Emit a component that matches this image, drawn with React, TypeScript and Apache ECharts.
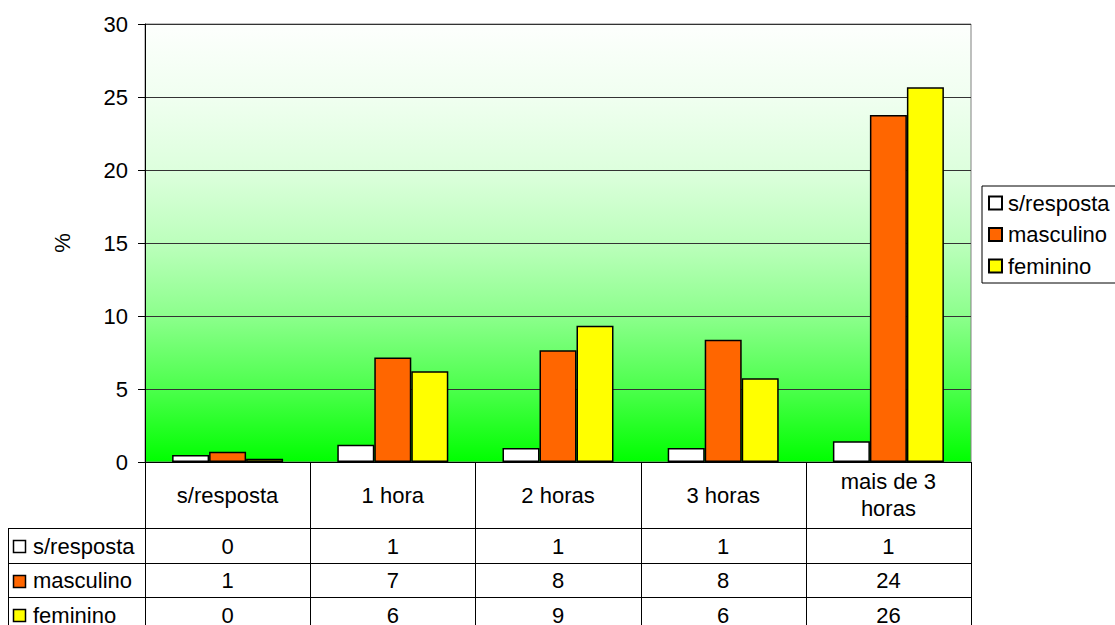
import React, { useEffect, useRef } from "react";
import * as echarts from "echarts";

const categories = ["s/resposta", "1 hora", "2 horas", "3 horas", "mais de 3\nhoras"];
const seriesNames = ["s/resposta", "masculino", "feminino"];
const semResposta = [0.48, 1.19, 0.96, 0.96, 1.42];
const masculino = [0.7, 7.15, 7.65, 8.38, 23.77];
const feminino = [0.23, 6.21, 9.34, 5.73, 25.66];
const tableSemResposta = ["0", "1", "1", "1", "1"];
const tableMasculino = ["1", "7", "8", "8", "24"];
const tableFeminino = ["0", "6", "9", "6", "26"];
const colors = ["#ffffff", "#ff6600", "#ffff00"];

const FONT = "'Liberation Sans', Arial, sans-serif";
const FS = 22;

export default function App() {
  const ref = useRef<HTMLDivElement>(null);
  useEffect(() => {
    if (!ref.current) return;
    const chart = echarts.init(ref.current, null, { renderer: "svg" });
    const gl = 145, gr = 971, gt = 24, gb = 462;
    const W = 1115, H = 625;
    const cellW = (gr - gl) / categories.length;
    const rowTops = [528, 562.5, 597, 631.5];
    const tableLeft = 8;
    const lineStyle = { stroke: "#000", lineWidth: 1 };
    const graphic: any[] = [];
    for (let i = 0; i <= categories.length; i++) {
      const x = Math.round(gl + i * cellW) + 0.5;
      graphic.push({ type: "line", shape: { x1: x, y1: gb, x2: x, y2: H + 10 }, style: lineStyle, silent: true });
    }
    graphic.push({ type: "line", shape: { x1: tableLeft + 0.5, y1: rowTops[0], x2: tableLeft + 0.5, y2: H + 10 }, style: lineStyle });
    for (let r = 0; r < rowTops.length; r++) {
      const y = Math.round(rowTops[r]) + 0.5;
      graphic.push({ type: "line", shape: { x1: tableLeft, y1: y, x2: gr + 0.5, y2: y }, style: lineStyle });
    }
    const rows = [tableSemResposta, tableMasculino, tableFeminino];
    rows.forEach((row, r) => {
      const cy = (rowTops[r] + rowTops[r + 1]) / 2 + 1;
      graphic.push({
        type: "rect",
        shape: { x: 13.5, y: Math.round(cy - 6) + 0.5, width: 12, height: 12 },
        style: { fill: colors[r], stroke: "#000", lineWidth: 1.5 },
      });
      graphic.push({
        type: "text",
        x: 33,
        y: cy,
        style: { text: seriesNames[r], font: `${FS}px ${FONT}`, fill: "#000", verticalAlign: "middle", align: "left" },
      });
      row.forEach((v, i) => {
        graphic.push({
          type: "text",
          x: gl + (i + 0.5) * cellW,
          y: cy,
          style: { text: v, font: `${FS}px ${FONT}`, fill: "#000", verticalAlign: "middle", align: "center" },
        });
      });
    });
    graphic.push({
      type: "text",
      x: 62,
      y: (gt + gb) / 2,
      rotation: Math.PI / 2,
      style: { text: "%", font: `${FS}px ${FONT}`, fill: "#000", verticalAlign: "middle", align: "center" },
    });

    const seriesData = [semResposta, masculino, feminino];
    chart.setOption({
      animation: false,
      textStyle: { fontFamily: FONT },
      grid: {
        left: gl,
        right: W - gr,
        top: gt,
        bottom: H - gb,
        show: true,
        borderColor: "#808080",
        borderWidth: 1,
        backgroundColor: new echarts.graphic.LinearGradient(0, 0, 0, 1, [
          { offset: 0, color: "#fdfffd" },
          { offset: 0.167, color: "#f0fff0" },
          { offset: 0.333, color: "#ddffdd" },
          { offset: 0.5, color: "#bcffbc" },
          { offset: 0.667, color: "#8cff8c" },
          { offset: 0.833, color: "#4cff4c" },
          { offset: 1, color: "#00ff00" },
        ]),
      },
      legend: {
        orient: "vertical",
        left: 982,
        top: 186,
        data: seriesNames,
        itemWidth: 13,
        itemHeight: 13,
        itemGap: 9.5,
        padding: [6, 30, 6, 6],
        borderColor: "#000",
        borderWidth: 1,
        backgroundColor: "#fff",
        textStyle: { fontSize: FS, fontFamily: FONT, color: "#000", padding: [0, 0, 0, 1] },
        icon: "rect",
      },
      xAxis: {
        type: "category",
        data: categories,
        axisLine: { show: true, lineStyle: { color: "#000", width: 1 } },
        axisTick: { show: false },
        axisLabel: {
          fontSize: FS,
          fontFamily: FONT,
          color: "#000",
          margin: 33,
          verticalAlign: "middle",
          lineHeight: 27,
          interval: 0,
        },
      },
      yAxis: {
        type: "value",
        min: 0,
        max: 30,
        interval: 5,
        axisLine: { show: true, lineStyle: { color: "#000", width: 1 } },
        axisTick: { show: true, length: 7, inside: false, lineStyle: { color: "#000" } },
        axisLabel: { fontSize: FS, fontFamily: FONT, color: "#000", margin: 17 },
        splitLine: { show: true, lineStyle: { color: "#333", width: 1 } },
      },
      series: seriesNames.map((name, i) => ({
        name,
        type: "bar",
        data: seriesData[i],
        barWidth: 37,
        barGap: "0%",
        itemStyle: { color: colors[i], borderColor: "#000", borderWidth: 1.5 },
      })),
      graphic,
    });
    return () => chart.dispose();
  }, []);
  return <div ref={ref} style={{ position: "absolute", left: 0, top: 0, width: 1115, height: 625 }} />;
}
